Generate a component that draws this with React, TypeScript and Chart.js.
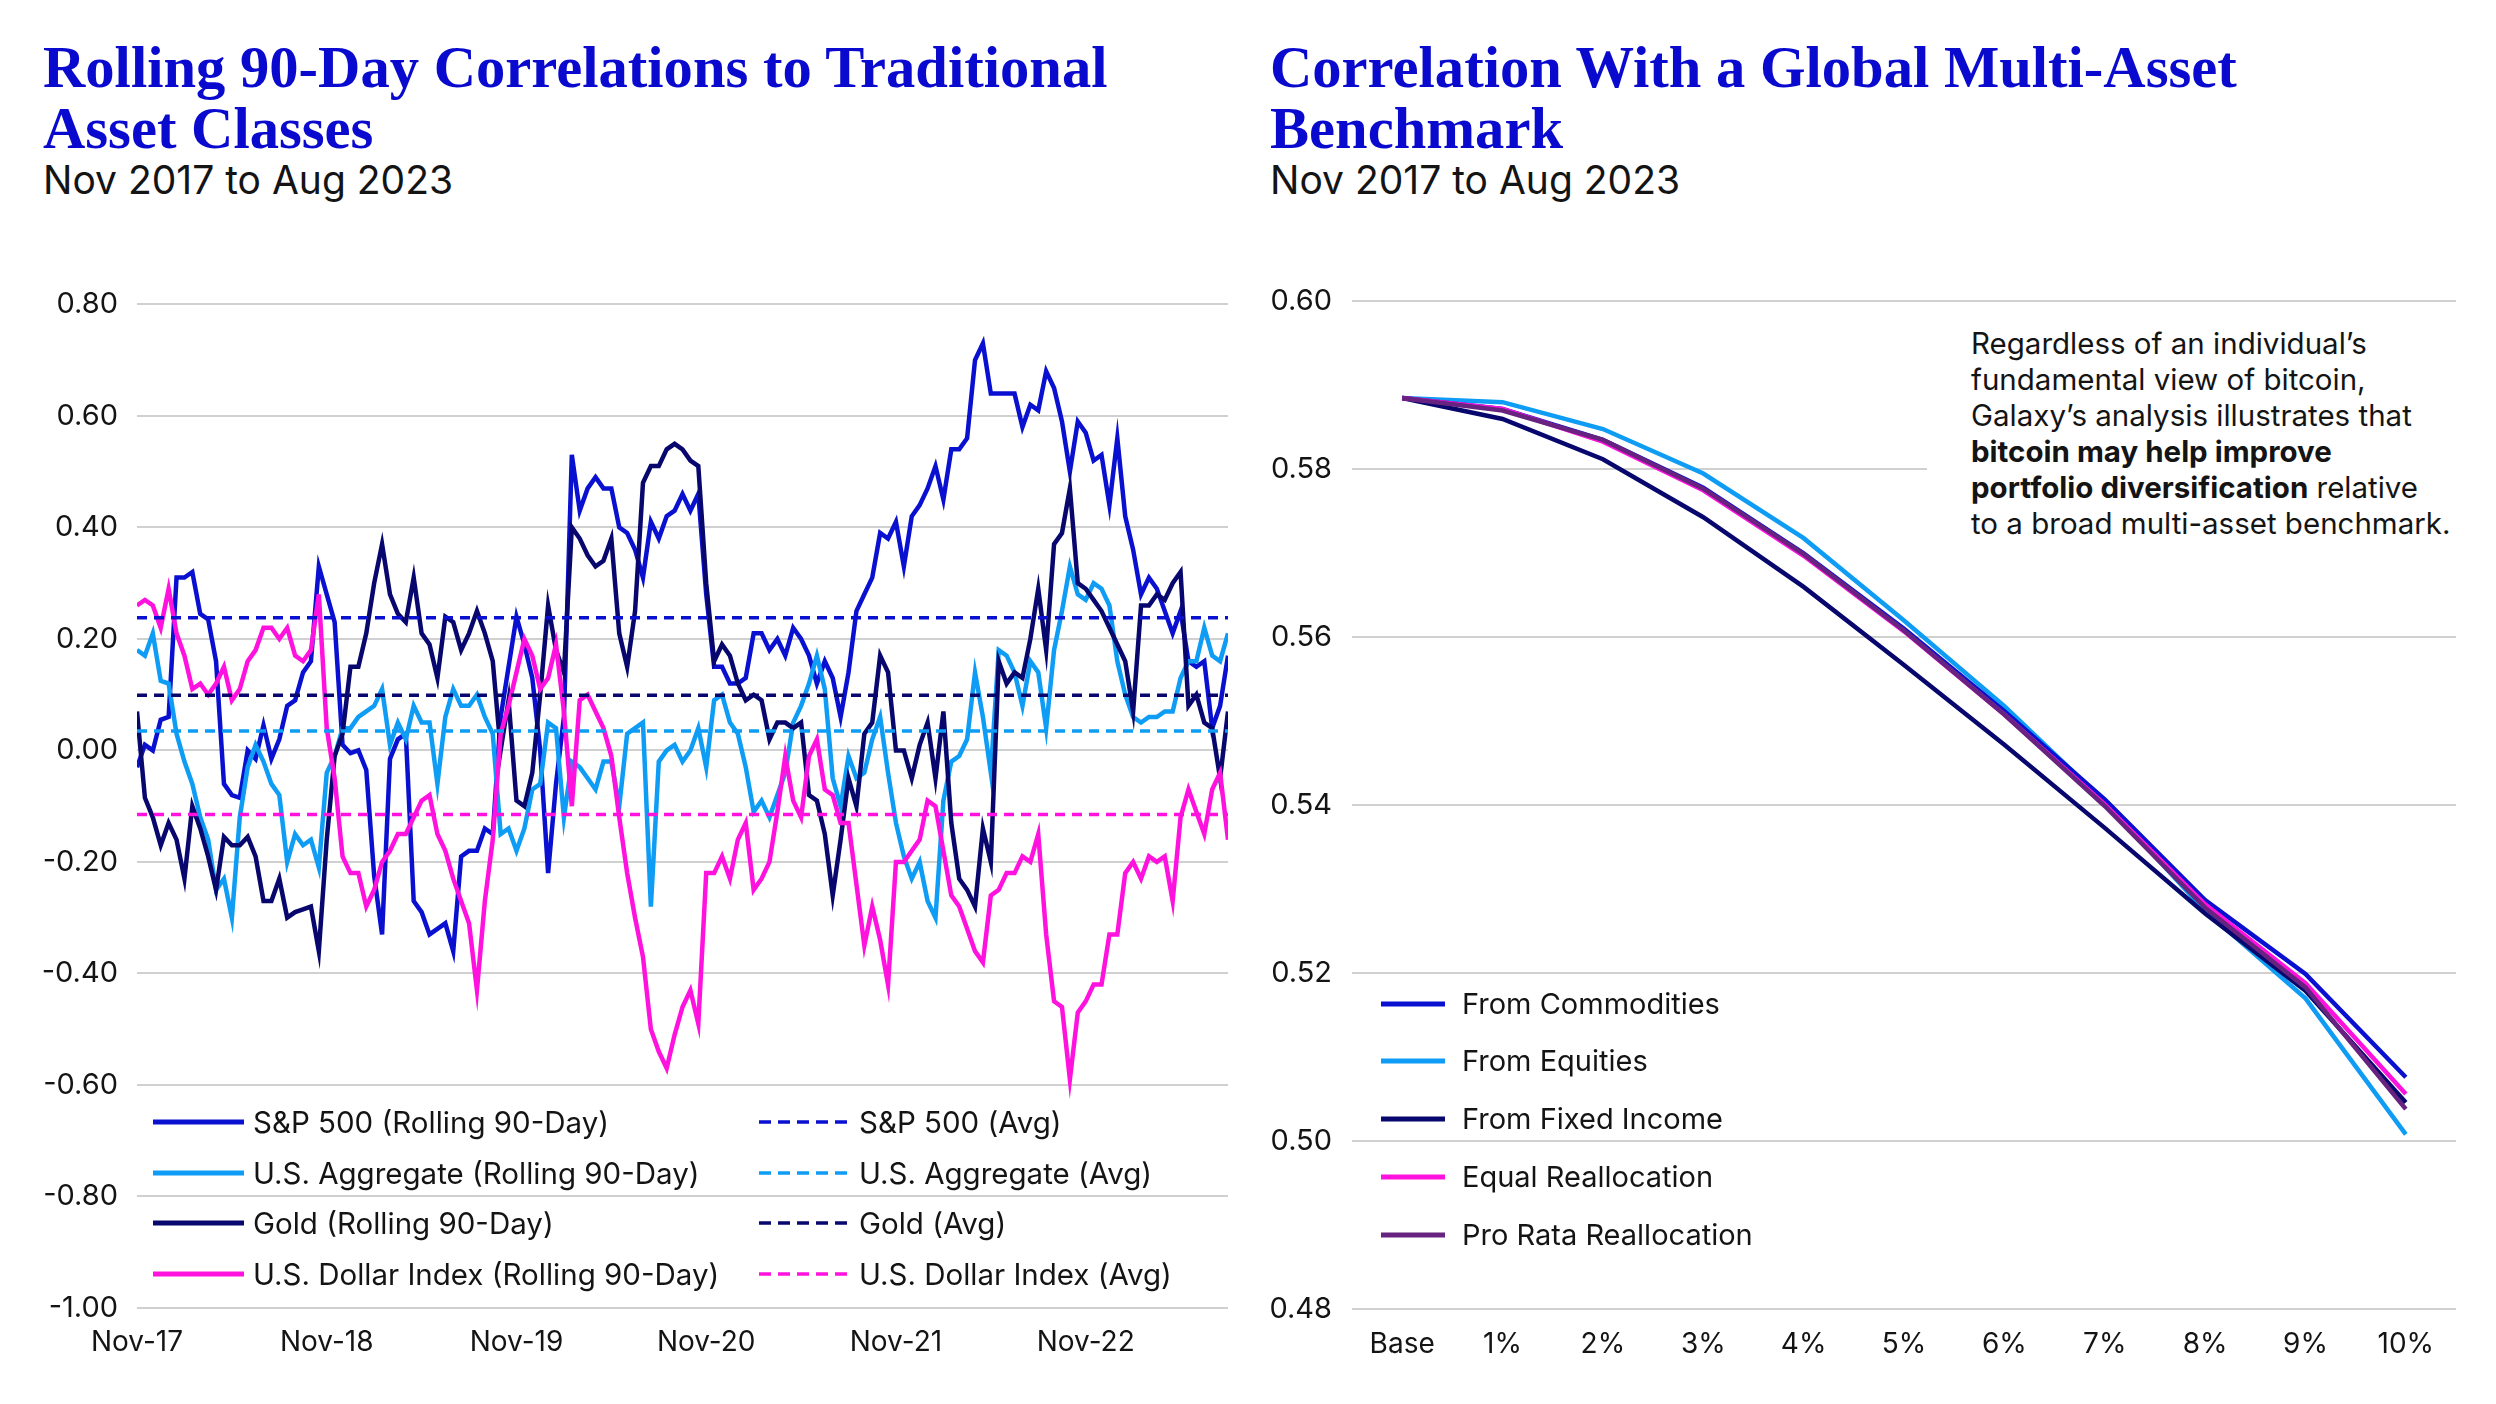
import React, { useEffect, useRef } from "react";
import { Chart, registerables } from "chart.js";

Chart.register(...registerables);

// ---------- Left chart data (half-month steps from Nov 2017 to Aug 2023) ----------
const TIME_TICK_LABELS = ["Nov-17", "Nov-18", "Nov-19", "Nov-20", "Nov-21", "Nov-22"];
const TIME_TICK_POSITIONS = [0, 24, 48, 72, 96, 120];

const SP500_ROLLING = [
  -0.03, 0.01, 0.0, 0.055, 0.06, 0.31, 0.31, 0.32, 0.245, 0.235,
  0.16, -0.06, -0.08, -0.085, 0.0, -0.015, 0.045, -0.015, 0.02, 0.08,
  0.09, 0.14, 0.16, 0.33, 0.28, 0.23, 0.01, -0.005, 0.0, -0.035,
  -0.225, -0.33, -0.015, 0.02, 0.03, -0.27, -0.29, -0.33, -0.32, -0.31,
  -0.36, -0.19, -0.18, -0.18, -0.14, -0.15, 0.06, 0.15, 0.24, 0.19,
  0.13, 0.0, -0.22, -0.06, 0.06, 0.53, 0.43, 0.47, 0.49, 0.47,
  0.47, 0.4, 0.39, 0.36, 0.31, 0.41, 0.38, 0.42, 0.43, 0.46,
  0.43, 0.46, 0.28, 0.15, 0.15, 0.12, 0.12, 0.13, 0.21, 0.21,
  0.18, 0.2, 0.17, 0.22, 0.2, 0.17, 0.12, 0.16, 0.13, 0.06,
  0.14, 0.25, 0.28, 0.31, 0.39, 0.38, 0.41, 0.33, 0.42, 0.44,
  0.47, 0.51, 0.45, 0.54, 0.54, 0.56, 0.7, 0.73, 0.64, 0.64,
  0.64, 0.64, 0.58, 0.62, 0.61, 0.68, 0.65, 0.59, 0.5, 0.59,
  0.57, 0.52, 0.53, 0.44, 0.56, 0.42, 0.36, 0.28, 0.31, 0.29,
  0.25, 0.21, 0.25, 0.16, 0.15, 0.16, 0.04, 0.08, 0.17,
];

const US_AGG_ROLLING = [
  0.18, 0.17, 0.21, 0.125, 0.12, 0.03, -0.02, -0.06, -0.12, -0.16,
  -0.25, -0.23, -0.3, -0.12, -0.03, 0.01, -0.02, -0.06, -0.08, -0.2,
  -0.15, -0.17, -0.16, -0.21, -0.04, -0.01, 0.04, 0.04, 0.06, 0.07,
  0.08, 0.11, 0.01, 0.05, 0.02, 0.08, 0.05, 0.05, -0.06, 0.06,
  0.11, 0.08, 0.08, 0.1, 0.06, 0.03, -0.15, -0.14, -0.18, -0.14,
  -0.07, -0.06, 0.05, 0.04, -0.12, -0.02, -0.03, -0.05, -0.07, -0.02,
  -0.02, -0.1, 0.03, 0.04, 0.05, -0.28, -0.02, 0.0, 0.01, -0.02,
  0.0, 0.04, -0.03, 0.09, 0.1, 0.05, 0.03, -0.03, -0.11, -0.09,
  -0.12, -0.08, -0.04, 0.05, 0.08, 0.12, 0.17, 0.11, -0.05, -0.1,
  -0.01, -0.05, -0.04, 0.02, 0.06, -0.04, -0.13, -0.19, -0.23, -0.2,
  -0.27, -0.3, -0.09, -0.02, -0.01, 0.02, 0.14, 0.06, -0.04, 0.18,
  0.17, 0.14, 0.08, 0.16, 0.14, 0.04, 0.18, 0.25, 0.33, 0.28,
  0.27, 0.3, 0.29, 0.26, 0.16, 0.1, 0.06, 0.05, 0.06, 0.06,
  0.07, 0.07, 0.13, 0.16, 0.16, 0.22, 0.17, 0.16, 0.21,
];

const GOLD_ROLLING = [
  0.07, -0.085, -0.12, -0.17, -0.13, -0.16, -0.23, -0.1, -0.14, -0.19,
  -0.25, -0.155, -0.17, -0.17, -0.155, -0.19, -0.27, -0.27, -0.23, -0.3,
  -0.29, -0.285, -0.28, -0.36, -0.16, -0.01, 0.03, 0.15, 0.15, 0.21,
  0.3, 0.37, 0.28, 0.245, 0.23, 0.31, 0.21, 0.19, 0.13, 0.24,
  0.23, 0.18, 0.21, 0.25, 0.21, 0.16, 0.0, 0.09, -0.09, -0.1,
  -0.04, 0.1, 0.26, 0.18, 0.14, 0.4, 0.38, 0.35, 0.33, 0.34,
  0.38, 0.21, 0.15, 0.25, 0.48, 0.51, 0.51, 0.54, 0.55, 0.54,
  0.52, 0.51, 0.3, 0.16, 0.19, 0.17, 0.12, 0.09, 0.1, 0.09,
  0.02, 0.05, 0.05, 0.04, 0.05, -0.08, -0.09, -0.15, -0.26, -0.16,
  -0.05, -0.1, 0.03, 0.05, 0.17, 0.14, 0.0, 0.0, -0.05, 0.01,
  0.05, -0.05, 0.07, -0.13, -0.23, -0.25, -0.28, -0.14, -0.2, 0.16,
  0.12, 0.14, 0.13, 0.2, 0.29, 0.18, 0.37, 0.39, 0.47, 0.3,
  0.29, 0.27, 0.25, 0.22, 0.19, 0.16, 0.07, 0.26, 0.26, 0.28,
  0.27, 0.3, 0.32, 0.08, 0.1, 0.05, 0.04, -0.05, 0.07,
];

const USD_INDEX_ROLLING = [
  0.26, 0.27, 0.26, 0.22, 0.29, 0.21, 0.17, 0.11, 0.12, 0.1,
  0.12, 0.15, 0.09, 0.11, 0.16, 0.18, 0.22, 0.22, 0.2, 0.22,
  0.17, 0.16, 0.18, 0.28, 0.04, -0.05, -0.19, -0.22, -0.22, -0.28,
  -0.25, -0.2, -0.18, -0.15, -0.15, -0.12, -0.09, -0.08, -0.15, -0.18,
  -0.23, -0.27, -0.31, -0.43, -0.27, -0.16, 0.03, 0.08, 0.14, 0.2,
  0.17, 0.11, 0.13, 0.19, 0.07, -0.1, 0.09, 0.1, 0.07, 0.04,
  -0.01, -0.12, -0.22, -0.3, -0.37, -0.5, -0.54, -0.57, -0.51, -0.46,
  -0.43, -0.49, -0.22, -0.22, -0.19, -0.23, -0.16, -0.13, -0.25, -0.23,
  -0.2, -0.11, -0.01, -0.09, -0.12, -0.01, 0.02, -0.07, -0.08, -0.13,
  -0.13, -0.24, -0.35, -0.28, -0.34, -0.42, -0.2, -0.2, -0.18, -0.16,
  -0.09, -0.1, -0.18, -0.26, -0.28, -0.32, -0.36, -0.38, -0.26, -0.25,
  -0.22, -0.22, -0.19, -0.2, -0.15, -0.33, -0.45, -0.46, -0.59, -0.47,
  -0.45, -0.42, -0.42, -0.33, -0.33, -0.22, -0.2, -0.23, -0.19, -0.2,
  -0.19, -0.27, -0.12, -0.07, -0.11, -0.15, -0.07, -0.04, -0.16,
];

const SP500_AVG = 0.238;
const US_AGG_AVG = 0.035;
const GOLD_AVG = 0.099;
const USD_INDEX_AVG = -0.115;

// ---------- Right chart data ----------
const ALLOCATION_LABELS = ["Base", "1%", "2%", "3%", "4%", "5%", "6%", "7%", "8%", "9%", "10%"];
const FROM_COMMODITIES = [0.5885, 0.5872, 0.5835, 0.5778, 0.57, 0.561, 0.5512, 0.5407, 0.5287, 0.5199, 0.5076];
const FROM_EQUITIES = [0.5885, 0.588, 0.5848, 0.5795, 0.5718, 0.562, 0.5518, 0.5404, 0.5274, 0.517, 0.5008];
const FROM_FIXED_INCOME = [0.5885, 0.586, 0.5812, 0.5743, 0.566, 0.5567, 0.5472, 0.5373, 0.5271, 0.5179, 0.5046];
const EQUAL_REALLOCATION = [0.5885, 0.5872, 0.5833, 0.5775, 0.5697, 0.5607, 0.5508, 0.5401, 0.5282, 0.5188, 0.5056];
const PRO_RATA_REALLOCATION = [0.5885, 0.587, 0.5835, 0.5777, 0.5699, 0.5608, 0.5508, 0.5399, 0.5278, 0.5183, 0.5038];

// ---------- Styles ----------
const C_SP = "#0A10D0";
const C_AGG = "#0E9CF4";
const C_GOLD = "#07076E";
const C_USD = "#FF12DE";
const C_PRORATA = "#67237F";
const GRID = "#D0D0D0";
const TEXT = "#141414";
const SANS = "Inter, 'Noto Sans', sans-serif";
const SERIF = "'Liberation Serif', 'DejaVu Serif', serif";

function fmt2(v: number) {
  if (Math.abs(v) < 1e-9) return "0.00";
  return Number(v).toFixed(2);
}

function useChart(ref: React.RefObject<HTMLCanvasElement | null>, build: () => any) {
  useEffect(() => {
    if (!ref.current) return;
    const chart = new Chart(ref.current, build());
    return () => chart.destroy();
  }, []);
}

const LEFT_CANVAS = { left: 0, top: 268, width: 1250, height: 1112 };
const RIGHT_CANVAS = { left: 1250, top: 264, width: 1246, height: 1116 };

function LeftChart() {
  const ref = useRef<HTMLCanvasElement | null>(null);
  useChart(ref, () => {
    const n = SP500_ROLLING.length;
    const toXY = (arr: number[]) => arr.map((y, i) => ({ x: i, y }));
    const avg = (v: number) => [
      { x: 0, y: v },
      { x: n - 1, y: v },
    ];
    const solid = (label: string, data: number[], color: string, order: number) => ({
      label,
      data: toXY(data),
      borderColor: color,
      backgroundColor: color,
      borderWidth: 4.5,
      pointRadius: 0,
      tension: 0,
      order,
    });
    const dashed = (label: string, v: number, color: string) => ({
      label,
      data: avg(v),
      borderColor: color,
      backgroundColor: color,
      borderWidth: 3.5,
      borderDash: [10, 7],
      pointRadius: 0,
      order: 0,
    });
    return {
      type: "line",
      data: {
        datasets: [
          solid("S&P 500 (Rolling 90-Day)", SP500_ROLLING, C_SP, 4),
          solid("U.S. Aggregate (Rolling 90-Day)", US_AGG_ROLLING, C_AGG, 3),
          solid("Gold (Rolling 90-Day)", GOLD_ROLLING, C_GOLD, 2),
          solid("U.S. Dollar Index (Rolling 90-Day)", USD_INDEX_ROLLING, C_USD, 1),
          dashed("S&P 500 (Avg)", SP500_AVG, C_SP),
          dashed("U.S. Aggregate (Avg)", US_AGG_AVG, C_AGG),
          dashed("Gold (Avg)", GOLD_AVG, C_GOLD),
          dashed("U.S. Dollar Index (Avg)", USD_INDEX_AVG, C_USD),
        ],
      },
      options: {
        animation: false,
        responsive: false,
        devicePixelRatio: 1,
        layout: { padding: { top: 0, right: 22, left: 0, bottom: 0 } },
        plugins: { legend: { display: false }, tooltip: { enabled: false } },
        scales: {
          x: {
            type: "linear",
            min: 0,
            max: n - 1,
            grid: { display: false, drawTicks: false },
            border: { display: false },
            afterBuildTicks: (s: any) => {
              s.ticks = TIME_TICK_POSITIONS.map((v) => ({ value: v }));
            },
            afterFit: (s: any) => {
              s.height = 72;
            },
            ticks: {
              autoSkip: false,
              maxRotation: 0,
              padding: 18,
              color: TEXT,
              font: { family: SANS, size: 28 },
              callback: (v: any) => {
                const k = TIME_TICK_POSITIONS.indexOf(Number(v));
                return k >= 0 ? TIME_TICK_LABELS[k] : "";
              },
            },
          },
          y: {
            min: -1,
            max: 0.8,
            grid: { color: GRID, lineWidth: 2, drawTicks: false },
            border: { display: false },
            afterFit: (s: any) => {
              s.width = 137;
            },
            ticks: {
              stepSize: 0.2,
              padding: 19,
              color: TEXT,
              font: { family: SANS, size: 29 },
              callback: (v: any) => fmt2(Number(v)),
            },
          },
        },
      },
    };
  });
  return (
    <canvas
      ref={ref}
      width={LEFT_CANVAS.width}
      height={LEFT_CANVAS.height}
      style={{ position: "absolute", ...LEFT_CANVAS }}
    />
  );
}

function RightChart() {
  const ref = useRef<HTMLCanvasElement | null>(null);
  useChart(ref, () => {
    const line = (label: string, data: number[], color: string, order: number) => ({
      label,
      data,
      borderColor: color,
      backgroundColor: color,
      borderWidth: 4.5,
      pointRadius: 0,
      tension: 0,
      order,
    });
    return {
      type: "line",
      data: {
        labels: ALLOCATION_LABELS,
        datasets: [
          line("From Commodities", FROM_COMMODITIES, C_SP, 3),
          line("From Equities", FROM_EQUITIES, C_AGG, 4),
          line("From Fixed Income", FROM_FIXED_INCOME, C_GOLD, 2),
          line("Equal Reallocation", EQUAL_REALLOCATION, C_USD, 1),
          line("Pro Rata Reallocation", PRO_RATA_REALLOCATION, C_PRORATA, 0),
        ],
      },
      options: {
        animation: false,
        responsive: false,
        devicePixelRatio: 1,
        layout: { padding: { top: 0, right: 40, left: 0, bottom: 0 } },
        plugins: { legend: { display: false }, tooltip: { enabled: false } },
        scales: {
          x: {
            type: "category",
            offset: true,
            grid: { display: false, drawTicks: false },
            border: { display: false },
            afterFit: (s: any) => {
              s.height = 71;
            },
            ticks: {
              autoSkip: false,
              maxRotation: 0,
              padding: 19,
              color: TEXT,
              font: { family: SANS, size: 28 },
            },
          },
          y: {
            min: 0.48,
            max: 0.6,
            grid: { color: GRID, lineWidth: 2, drawTicks: false },
            border: { display: false },
            afterFit: (s: any) => {
              s.width = 102;
            },
            ticks: {
              stepSize: 0.02,
              padding: 20,
              color: TEXT,
              font: { family: SANS, size: 29 },
              callback: (v: any) => fmt2(Number(v)),
            },
          },
        },
      },
    };
  });
  return (
    <canvas
      ref={ref}
      width={RIGHT_CANVAS.width}
      height={RIGHT_CANVAS.height}
      style={{ position: "absolute", ...RIGHT_CANVAS }}
    />
  );
}

type LegendItem = { label: string; color: string; dashed: boolean };

const LEFT_LEGEND_COL1: LegendItem[] = [
  { label: "S&P 500 (Rolling 90-Day)", color: C_SP, dashed: false },
  { label: "U.S. Aggregate (Rolling 90-Day)", color: C_AGG, dashed: false },
  { label: "Gold (Rolling 90-Day)", color: C_GOLD, dashed: false },
  { label: "U.S. Dollar Index (Rolling 90-Day)", color: C_USD, dashed: false },
];
const LEFT_LEGEND_COL2: LegendItem[] = [
  { label: "S&P 500 (Avg)", color: C_SP, dashed: true },
  { label: "U.S. Aggregate (Avg)", color: C_AGG, dashed: true },
  { label: "Gold (Avg)", color: C_GOLD, dashed: true },
  { label: "U.S. Dollar Index (Avg)", color: C_USD, dashed: true },
];
const RIGHT_LEGEND: LegendItem[] = [
  { label: "From Commodities", color: C_SP, dashed: false },
  { label: "From Equities", color: C_AGG, dashed: false },
  { label: "From Fixed Income", color: C_GOLD, dashed: false },
  { label: "Equal Reallocation", color: C_USD, dashed: false },
  { label: "Pro Rata Reallocation", color: C_PRORATA, dashed: false },
];

function LegendRow({
  item,
  x,
  cy,
  sampleW,
  textX,
  fontSize,
}: {
  item: LegendItem;
  x: number;
  cy: number;
  sampleW: number;
  textX: number;
  fontSize: number;
}) {
  return (
    <>
      <svg width={sampleW} height={10} style={{ position: "absolute", left: x, top: cy - 5 }}>
        <line
          x1={0}
          y1={5}
          x2={sampleW}
          y2={5}
          stroke={item.color}
          strokeWidth={item.dashed ? 3.5 : 5}
          strokeDasharray={item.dashed ? "12 7" : undefined}
        />
      </svg>
      <div
        style={{
          position: "absolute",
          left: textX,
          top: cy - 20,
          height: 40,
          lineHeight: "40px",
          fontSize,
          fontFamily: SANS,
          color: TEXT,
          whiteSpace: "nowrap",
        }}
      >
        {item.label}
      </div>
    </>
  );
}

const LEFT_ROWS_Y = [1122, 1173, 1223, 1274];
const RIGHT_ROWS_Y = [1004, 1061, 1119, 1177, 1235];

export default function App() {
  useEffect(() => {
    document.body.style.margin = "0";
  }, []);
  const titleStyle: React.CSSProperties = {
    position: "absolute",
    top: 37,
    fontFamily: SERIF,
    fontWeight: 700,
    fontSize: 58.6,
    lineHeight: "61px",
    color: "#0A0ACF",
    whiteSpace: "nowrap",
  };
  const subStyle: React.CSSProperties = {
    position: "absolute",
    top: 156,
    fontFamily: SANS,
    fontSize: 39,
    lineHeight: "47px",
    color: TEXT,
    whiteSpace: "nowrap",
  };
  return (
    <div
      style={{
        position: "fixed",
        left: 0,
        top: 0,
        width: 2496,
        height: 1404,
        background: "#ffffff",
        overflow: "hidden",
      }}
    >
      <div style={{ ...titleStyle, left: 43 }}>
        Rolling 90-Day Correlations to Traditional
        <br />
        Asset Classes
      </div>
      <div style={{ ...subStyle, left: 43 }}>Nov 2017 to Aug 2023</div>
      <div style={{ ...titleStyle, left: 1270 }}>
        Correlation With a Global Multi-Asset
        <br />
        Benchmark
      </div>
      <div style={{ ...subStyle, left: 1270 }}>Nov 2017 to Aug 2023</div>

      <LeftChart />
      <RightChart />

      {LEFT_LEGEND_COL1.map((it, k) => (
        <LegendRow key={"l1" + k} item={it} x={153} cy={LEFT_ROWS_Y[k]} sampleW={91} textX={253} fontSize={29.5} />
      ))}
      {LEFT_LEGEND_COL2.map((it, k) => (
        <LegendRow key={"l2" + k} item={it} x={759} cy={LEFT_ROWS_Y[k]} sampleW={92} textX={859} fontSize={29.5} />
      ))}
      {RIGHT_LEGEND.map((it, k) => (
        <LegendRow key={"r" + k} item={it} x={1381} cy={RIGHT_ROWS_Y[k]} sampleW={64} textX={1462} fontSize={29} />
      ))}

      <div
        style={{
          position: "absolute",
          left: 1927,
          top: 325,
          width: 569,
          height: 218,
          background: "#ffffff",
          boxSizing: "border-box",
          paddingLeft: 44,
          fontFamily: SANS,
          fontSize: 29.5,
          lineHeight: "36px",
          color: TEXT,
          whiteSpace: "nowrap",
        }}
      >
        Regardless of an individual’s
        <br />
        fundamental view of bitcoin,
        <br />
        Galaxy’s analysis illustrates that
        <br />
        <b>bitcoin may help improve</b>
        <br />
        <b>portfolio diversification</b> relative
        <br />
        to a broad multi-asset benchmark.
      </div>
    </div>
  );
}
